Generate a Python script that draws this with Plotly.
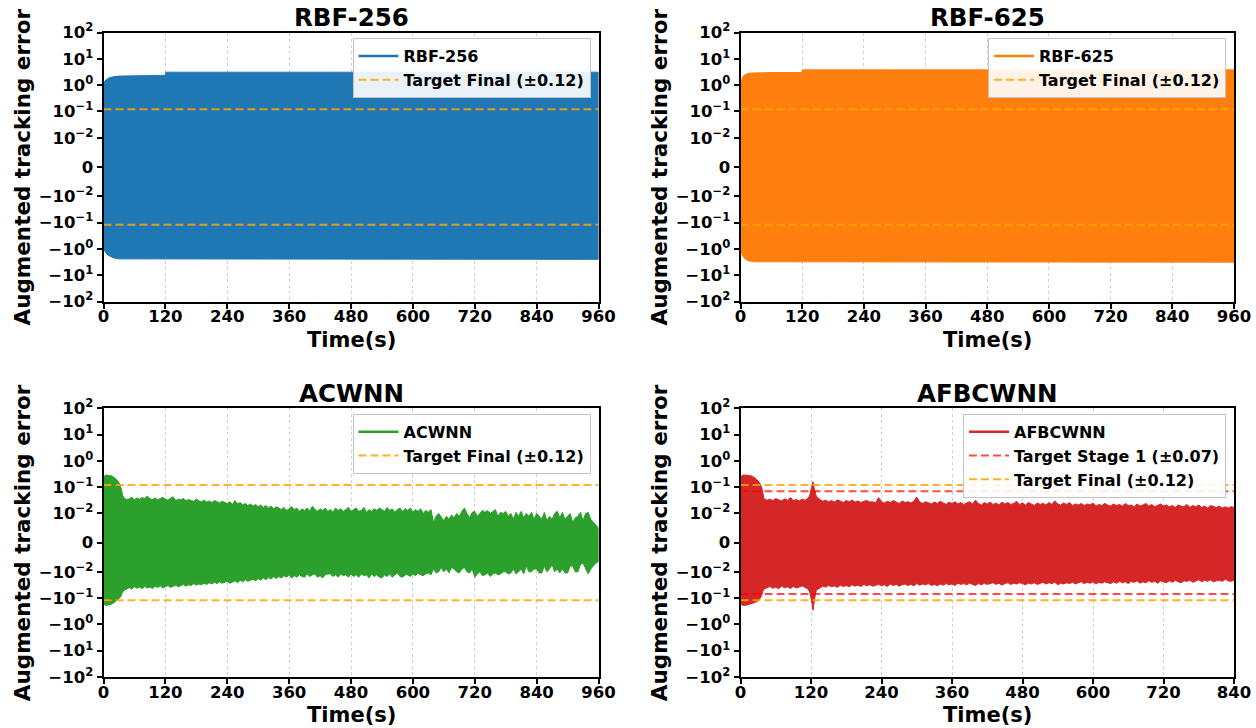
import numpy as np
import plotly.graph_objects as go

# ---------------- data ----------------
TIME_RBF256 = [0, 3, 6, 10, 15, 20, 30, 45, 60, 90, 119, 121, 200, 400, 600, 800, 960]
UPPER_RBF256 = [1.2, 1.45, 1.65, 1.85, 2.0, 2.1, 2.2, 2.25, 2.3, 2.3, 2.3, 3.1, 3.1, 3.1, 3.1, 3.1, 3.1]
LOWER_RBF256 = [-1.0, -1.3, -1.55, -1.8, -2.05, -2.2, -2.4, -2.5, -2.5, -2.5, -2.5, -2.5, -2.5, -2.5, -2.5, -2.5, -2.5]

TIME_RBF625 = [0, 3, 6, 10, 15, 25, 40, 60, 119, 121, 300, 600, 960]
UPPER_RBF625 = [1.0, 1.8, 2.3, 2.6, 2.8, 2.9, 3.0, 3.0, 3.0, 3.8, 3.8, 3.8, 3.8]
LOWER_RBF625 = [-1.0, -1.6, -2.1, -2.5, -2.8, -3.1, -3.2, -3.2, -3.2, -3.2, -3.2, -3.2, -3.2]

TIME_ACWNN = [0, 2, 5, 10, 15, 20, 25, 30, 33, 35, 37] + list(range(40, 961, 5))
UPPER_ACWNN = [
    0.22, 0.27, 0.29, 0.285, 0.27, 0.24, 0.20, 0.15, 0.11, 0.08, 0.05,
    0.038, 0.034, 0.036, 0.041, 0.033, 0.039, 0.035, 0.040, 0.037, 0.046,
    0.036, 0.034, 0.039, 0.033, 0.037, 0.041, 0.035, 0.032, 0.038, 0.043,
    0.031, 0.035, 0.033, 0.037, 0.030, 0.034, 0.031, 0.029, 0.035, 0.030,
    0.028, 0.032, 0.027, 0.030, 0.026, 0.031, 0.028, 0.025, 0.029, 0.027,
    0.024, 0.028, 0.022, 0.031, 0.023, 0.026, 0.021, 0.024, 0.020, 0.023,
    0.019, 0.022, 0.018, 0.021, 0.017, 0.020, 0.016, 0.019, 0.015, 0.018,
    0.016, 0.014, 0.017, 0.013, 0.015, 0.018, 0.014, 0.016, 0.012, 0.015,
    0.013, 0.016, 0.012, 0.019, 0.014, 0.012, 0.015, 0.013, 0.016, 0.012,
    0.014, 0.011, 0.016, 0.013, 0.015, 0.012, 0.014, 0.017, 0.012, 0.014,
    0.016, 0.012, 0.013, 0.017, 0.011, 0.014, 0.012, 0.015, 0.013, 0.016,
    0.014, 0.012, 0.017, 0.013, 0.015, 0.011, 0.014, 0.016, 0.012, 0.015,
    0.013, 0.016, 0.011, 0.014, 0.012, 0.015, 0.010, 0.013, 0.011, 0.014,
    0.007, 0.009, 0.010, 0.0085, 0.0075, 0.009, 0.008, 0.0095, 0.0085, 0.010,
    0.009, 0.012, 0.016, 0.010, 0.0085, 0.011, 0.012, 0.009, 0.010, 0.013,
    0.011, 0.013, 0.010, 0.012, 0.014, 0.009, 0.011, 0.010, 0.012, 0.009,
    0.010, 0.008, 0.011, 0.009, 0.012, 0.0085, 0.010, 0.009, 0.011, 0.008,
    0.010, 0.009, 0.008, 0.011, 0.0075, 0.009, 0.008, 0.010, 0.012, 0.0085,
    0.011, 0.008, 0.009, 0.010, 0.007, 0.0085, 0.009, 0.011, 0.0075, 0.010,
    0.011, 0.008, 0.007, 0.006, 0.005,
]
LOWER_ACWNN = [
    -0.16, -0.18, -0.19, -0.185, -0.17, -0.15, -0.13, -0.105, -0.09, -0.075, -0.06,
    -0.050, -0.044, -0.040, -0.045, -0.037, -0.042, -0.038, -0.044, -0.036, -0.041,
    -0.038, -0.043, -0.035, -0.039, -0.034, -0.041, -0.036, -0.033, -0.039, -0.035,
    -0.032, -0.037, -0.034, -0.030, -0.035, -0.031, -0.033, -0.028, -0.032, -0.029,
    -0.031, -0.027, -0.030, -0.026, -0.029, -0.025, -0.028, -0.024, -0.027, -0.025,
    -0.023, -0.027, -0.025, -0.022, -0.026, -0.021, -0.024, -0.020, -0.023, -0.021,
    -0.019, -0.022, -0.018, -0.021, -0.017, -0.020, -0.016, -0.019, -0.015, -0.018,
    -0.015, -0.017, -0.014, -0.016, -0.013, -0.017, -0.014, -0.016, -0.013, -0.015,
    -0.016, -0.012, -0.015, -0.013, -0.012, -0.016, -0.014, -0.017, -0.013, -0.012,
    -0.012, -0.015, -0.013, -0.016, -0.012, -0.014, -0.013, -0.016, -0.012, -0.015,
    -0.013, -0.016, -0.012, -0.014, -0.013, -0.017, -0.012, -0.015, -0.013, -0.016,
    -0.017, -0.013, -0.015, -0.012, -0.016, -0.013, -0.011, -0.015, -0.016, -0.013,
    -0.013, -0.015, -0.012, -0.014, -0.011, -0.013, -0.014, -0.012, -0.011, -0.013,
    -0.009, -0.011, -0.010, -0.0085, -0.010, -0.009, -0.011, -0.0085, -0.009, -0.010,
    -0.011, -0.009, -0.0085, -0.010, -0.011, -0.009, -0.016, -0.012, -0.010, -0.014,
    -0.013, -0.011, -0.015, -0.012, -0.011, -0.013, -0.012, -0.010, -0.010, -0.012,
    -0.011, -0.009, -0.012, -0.010, -0.009, -0.012, -0.008, -0.010, -0.010, -0.009,
    -0.009, -0.011, -0.011, -0.008, -0.010, -0.009, -0.0075, -0.010, -0.009, -0.011,
    -0.009, -0.011, -0.011, -0.008, -0.008, -0.010, -0.010, -0.0075, -0.007, -0.009,
    -0.012, -0.009, -0.008, -0.007, -0.0065,
]

TIME_AFBCWNN = ([0, 2, 5, 10, 15, 20, 25, 30, 33, 36, 38]
                + list(range(40, 116, 5))
                + [118, 121, 123.5, 126, 129]
                + list(range(135, 841, 5)))
UPPER_AFBCWNN = [
    0.22, 0.27, 0.29, 0.29, 0.28, 0.26, 0.22, 0.17, 0.14, 0.10, 0.06,
    0.036, 0.032, 0.035, 0.031, 0.037, 0.033, 0.030, 0.036, 0.032, 0.040, 0.031, 0.034, 0.030, 0.035, 0.032, 0.038,
    0.05, 0.10, 0.16, 0.08, 0.045,
    0.034, 0.029, 0.032, 0.028, 0.031, 0.027, 0.033, 0.029, 0.026, 0.031,
    0.028, 0.032, 0.027, 0.030, 0.026, 0.029, 0.031, 0.027, 0.028, 0.025,
    0.040, 0.028, 0.025, 0.029, 0.026, 0.031, 0.027, 0.024, 0.030, 0.026,
    0.028, 0.025, 0.029, 0.042, 0.027, 0.024, 0.028, 0.025, 0.023, 0.027,
    0.024, 0.029, 0.025, 0.022, 0.027, 0.024, 0.028, 0.023, 0.026, 0.022,
    0.025, 0.028, 0.023, 0.032, 0.024, 0.021, 0.026, 0.023, 0.027, 0.022,
    0.025, 0.021, 0.027, 0.023, 0.026, 0.022, 0.024, 0.029, 0.022, 0.025,
    0.021, 0.026, 0.023, 0.020, 0.025, 0.022, 0.024, 0.021, 0.026, 0.022,
    0.030, 0.023, 0.021, 0.025, 0.022, 0.026, 0.020, 0.023, 0.021, 0.024,
    0.020, 0.023, 0.021, 0.025, 0.019, 0.022, 0.020, 0.024, 0.021, 0.019,
    0.023, 0.020, 0.022, 0.019, 0.024, 0.020, 0.021, 0.018, 0.023, 0.019,
    0.021, 0.024, 0.019, 0.022, 0.018, 0.020, 0.023, 0.019, 0.021, 0.018,
    0.020, 0.017, 0.021, 0.019, 0.018, 0.022, 0.017, 0.020, 0.018, 0.021,
    0.017, 0.019, 0.016, 0.020, 0.018, 0.017, 0.019, 0.016, 0.018, 0.016,
    0.018, 0.017,
]
LOWER_AFBCWNN = [
    -0.16, -0.18, -0.19, -0.185, -0.175, -0.16, -0.145, -0.125, -0.105, -0.08, -0.055,
    -0.045, -0.040, -0.036, -0.042, -0.038, -0.044, -0.035, -0.040, -0.037, -0.043, -0.036, -0.041, -0.038, -0.034, -0.040, -0.045,
    -0.06, -0.13, -0.29, -0.11, -0.05,
    -0.040, -0.035, -0.038, -0.033, -0.037, -0.034, -0.039, -0.032, -0.036, -0.033,
    -0.037, -0.031, -0.035, -0.032, -0.036, -0.030, -0.034, -0.031, -0.035, -0.032,
    -0.030, -0.034, -0.031, -0.036, -0.029, -0.033, -0.030, -0.035, -0.031, -0.029,
    -0.033, -0.030, -0.034, -0.028, -0.032, -0.029, -0.031, -0.028, -0.033, -0.030,
    -0.034, -0.029, -0.032, -0.028, -0.031, -0.029, -0.033, -0.027, -0.030, -0.028,
    -0.031, -0.027, -0.030, -0.033, -0.028, -0.031, -0.027, -0.030, -0.028, -0.026,
    -0.030, -0.027, -0.032, -0.028, -0.026, -0.030, -0.027, -0.029, -0.026, -0.028,
    -0.031, -0.027, -0.029, -0.026, -0.030, -0.027, -0.025, -0.029, -0.026, -0.028,
    -0.025, -0.031, -0.027, -0.029, -0.026, -0.028, -0.025, -0.029, -0.026, -0.024,
    -0.028, -0.025, -0.027, -0.024, -0.029, -0.025, -0.027, -0.024, -0.026, -0.028,
    -0.024, -0.027, -0.023, -0.026, -0.024, -0.028, -0.023, -0.025, -0.022, -0.027,
    -0.024, -0.026, -0.022, -0.025, -0.023, -0.027, -0.022, -0.024, -0.026, -0.022,
    -0.025, -0.021, -0.024, -0.026, -0.022, -0.023, -0.021, -0.025, -0.022, -0.020,
    -0.024, -0.021, -0.023, -0.020, -0.024, -0.022, -0.021, -0.023, -0.019, -0.022,
    -0.023, -0.021,
]

TARGET_FINAL = 0.12
TARGET_STAGE1 = 0.07

X_TICKS_960 = [0, 120, 240, 360, 480, 600, 720, 840, 960]
X_TICKS_840 = [0, 120, 240, 360, 480, 600, 720, 840]
Y_TICK_VALUES = [-100, -10, -1, -0.1, -0.01, 0, 0.01, 0.1, 1, 10, 100]
Y_TICK_LABELS = ["−10<sup>2</sup>", "−10<sup>1</sup>", "−10<sup>0</sup>", "−10<sup>−1</sup>",
                 "−10<sup>−2</sup>", "0", "10<sup>−2</sup>", "10<sup>−1</sup>",
                 "10<sup>0</sup>", "10<sup>1</sup>", "10<sup>2</sup>"]
Y_LIMIT = 100

for _t, _u, _l in [(TIME_RBF256, UPPER_RBF256, LOWER_RBF256), (TIME_RBF625, UPPER_RBF625, LOWER_RBF625),
                   (TIME_ACWNN, UPPER_ACWNN, LOWER_ACWNN), (TIME_AFBCWNN, UPPER_AFBCWNN, LOWER_AFBCWNN)]:
    assert len(_t) == len(_u) == len(_l), (len(_t), len(_u), len(_l))

# ---------------- symlog scale (linthresh 0.01, linscale 1, base 10) ----------------
LINTHRESH = 0.01
LINSCALE_ADJ = 1.0 / (1.0 - 1.0 / 10.0)


def symlog(v):
    v = np.asarray(v, dtype=float)
    a = np.abs(v)
    safe = np.maximum(a, 1e-300)
    return np.where(a <= LINTHRESH, v / LINTHRESH * LINSCALE_ADJ,
                    np.sign(v) * (LINSCALE_ADJ + np.log10(safe / LINTHRESH)))


W, H = 1256, 728
FONT = "DejaVu Sans"

C_BLUE = "#1f77b4"
C_ORANGE = "#ff7f0e"
C_GREEN = "#2ca02c"
C_RED = "#d62728"
C_FINAL = "rgba(255,165,0,0.85)"
C_STAGE = "rgba(255,0,0,0.7)"

panels = [
    dict(title="RBF-256", t=TIME_RBF256, up=UPPER_RBF256, lo=LOWER_RBF256, color=C_BLUE,
         xpx=(103.5, 598.5), ypx=(32.5, 301.5), xticks=X_TICKS_960, stage=False),
    dict(title="RBF-625", t=TIME_RBF625, up=UPPER_RBF625, lo=LOWER_RBF625, color=C_ORANGE,
         xpx=(740.5, 1234.0), ypx=(32.5, 301.5), xticks=X_TICKS_960, stage=False),
    dict(title="ACWNN", t=TIME_ACWNN, up=UPPER_ACWNN, lo=LOWER_ACWNN, color=C_GREEN,
         xpx=(103.5, 598.5), ypx=(408.3, 677.0), xticks=X_TICKS_960, stage=False),
    dict(title="AFBCWNN", t=TIME_AFBCWNN, up=UPPER_AFBCWNN, lo=LOWER_AFBCWNN, color=C_RED,
         xpx=(740.5, 1234.0), ypx=(408.3, 677.0), xticks=X_TICKS_840, stage=True),
]

fig = go.Figure()
annotations = []
layout_upd = {}

for i, p in enumerate(panels):
    k = "" if i == 0 else str(i + 1)
    xa, ya = "x" + k, "y" + k
    lg = "legend" + k
    t = np.asarray(p["t"], dtype=float)
    up = symlog(p["up"])
    lo = symlog(p["lo"])
    xmax = p["xticks"][-1]

    # signal band (dense oscillation drawn as its envelope)
    fig.add_trace(go.Scatter(
        x=np.concatenate([t, t[::-1]]), y=np.concatenate([up, lo[::-1]]),
        mode="lines", fill="toself", fillcolor=p["color"],
        line=dict(color=p["color"], width=1), showlegend=False, hoverinfo="skip",
        xaxis=xa, yaxis=ya))
    # legend entry for the signal
    fig.add_trace(go.Scatter(
        x=[None], y=[None], mode="lines", line=dict(color=p["color"], width=2.5),
        name=p["title"], legend=lg, legendgroup=lg + "a", xaxis=xa, yaxis=ya))
    if p["stage"]:
        sv = TARGET_STAGE1
        fig.add_trace(go.Scatter(
            x=[0, xmax, None, 0, xmax],
            y=[float(symlog(sv)), float(symlog(sv)), None, float(symlog(-sv)), float(symlog(-sv))],
            mode="lines", line=dict(color=C_STAGE, width=2, dash="8px,4px"),
            name="Target Stage 1 (±%.2f)" % sv, legend=lg, legendgroup=lg + "b",
            hoverinfo="skip", xaxis=xa, yaxis=ya))
    fv = TARGET_FINAL
    fig.add_trace(go.Scatter(
        x=[0, xmax, None, 0, xmax],
        y=[float(symlog(fv)), float(symlog(fv)), None, float(symlog(-fv)), float(symlog(-fv))],
        mode="lines", line=dict(color=C_FINAL, width=2, dash="8px,4px"),
        name="Target Final (±%.2f)" % fv, legend=lg, legendgroup=lg + "c",
        hoverinfo="skip", xaxis=xa, yaxis=ya))

    x0, x1 = p["xpx"]
    y0, y1 = p["ypx"]
    tickfont = dict(family=FONT, size=16.5, color="black", weight="bold")
    layout_upd["xaxis" + k] = dict(
        domain=[x0 / W, x1 / W], anchor=ya, range=[0, xmax], automargin=False,
        tickmode="array", tickvals=p["xticks"], ticktext=[str(v) for v in p["xticks"]],
        ticks="outside", ticklen=5, tickwidth=1.5, tickcolor="black", ticklabelstandoff=-6,
        showline=True, linecolor="black", linewidth=2, mirror=True,
        showgrid=True, gridcolor="rgba(170,170,170,0.55)", gridwidth=1, griddash="dot",
        zeroline=False, tickfont=tickfont)
    layout_upd["yaxis" + k] = dict(
        domain=[1 - y1 / H, 1 - y0 / H], anchor=xa, automargin=False,
        range=[float(symlog(-Y_LIMIT)), float(symlog(Y_LIMIT))],
        tickmode="array", tickvals=[float(v) for v in symlog(Y_TICK_VALUES)], ticktext=Y_TICK_LABELS,
        ticks="outside", ticklen=5, tickwidth=1.5, tickcolor="black",
        showline=True, linecolor="black", linewidth=2, mirror=True,
        showgrid=False, zeroline=False, tickfont=tickfont)
    layout_upd[lg] = dict(
        x=(x1 - 8) / W, y=1 - (y0 + 5.5) / H, xanchor="right", yanchor="top",
        bgcolor="rgba(255,255,255,0.9)", bordercolor="#c4c4c4", borderwidth=1,
        font=dict(family=FONT, size=16, color="black", weight="bold"),
        itemwidth=40, traceorder="grouped", tracegroupgap=0)

    xc = (x0 + x1) / 2
    yc = (y0 + y1) / 2
    annotations.append(dict(text=p["title"], x=xc / W, y=1 - (y0 - 15) / H, xref="paper", yref="paper",
                            xanchor="center", yanchor="middle", showarrow=False,
                            font=dict(family=FONT, size=24.5, color="black", weight="bold")))
    annotations.append(dict(text="Time(s)", x=xc / W, y=1 - (y1 + 38) / H, xref="paper", yref="paper",
                            xanchor="center", yanchor="middle", showarrow=False,
                            font=dict(family=FONT, size=21, color="black", weight="bold")))
    annotations.append(dict(text="Augmented tracking error", x=(x0 - 81) / W, y=1 - yc / H,
                            xref="paper", yref="paper", xanchor="center", yanchor="middle",
                            textangle=-90, showarrow=False,
                            font=dict(family=FONT, size=21.5, color="black", weight="bold")))

fig.update_layout(
    width=W, height=H, margin=dict(l=0, r=0, t=0, b=0, pad=0, autoexpand=False),
    paper_bgcolor="white", plot_bgcolor="white",
    font=dict(family=FONT, color="black"),
    annotations=annotations, **layout_upd)

fig.write_html("out.html", config={"displayModeBar": False},
               post_script="document.body.style.margin='0';")
